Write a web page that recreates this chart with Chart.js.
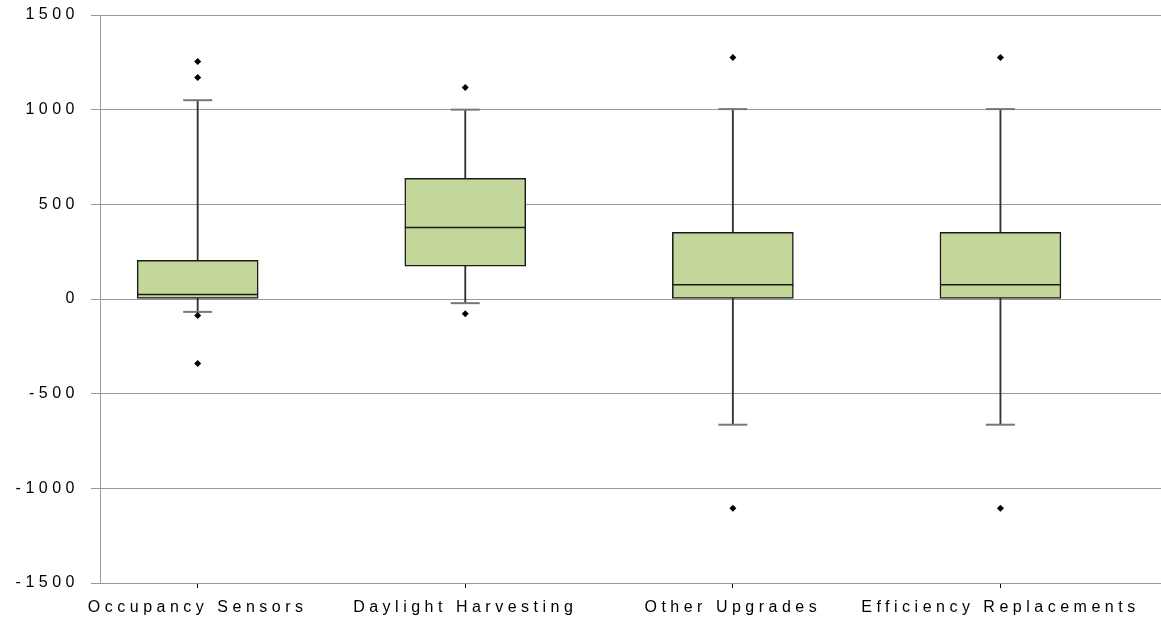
<!DOCTYPE html>
<html>
<head>
<meta charset="utf-8">
<script src="https://cdn.jsdelivr.net/npm/chart.js@4.4.0/dist/chart.umd.min.js"></script>
<style>
  html, body { margin: 0; padding: 0; background: #ffffff; }
  #wrap { width: 1161px; height: 629px; position: relative; }
</style>
</head>
<body>
<div id="wrap"><canvas id="c"></canvas></div>
<script>
// ---- data ----
const categories = ["Occupancy Sensors", "Daylight Harvesting", "Other Upgrades", "Efficiency Replacements"];
const minVals    = [-68, -22, -664, -664];
const q1Vals     = [0, 174, 0, 0];
const medianVals = [24, 377, 75, 75];
const q3Vals     = [204, 637, 352, 352];
const maxVals    = [1050, 1000, 1003, 1003];
const outlierVals = [
  [1255, 1170, -87, -341],
  [1117, -78],
  [1276, -1105],
  [1276, -1105]
];
const yTicks = [-1500, -1000, -500, 0, 500, 1000, 1500];

// ---- derived datasets ----
const boxData = categories.map((_, i) => ({ x: i, y: [q1Vals[i], q3Vals[i]] }));
const whiskerData = categories.map((_, i) => ({ x: i, y: [minVals[i], maxVals[i]] }));
const medianData = categories.map((_, i) => ({ x: i, y: medianVals[i] }));
const capData = [];
categories.forEach((_, i) => { capData.push({ x: i, y: minVals[i] }); capData.push({ x: i, y: maxVals[i] }); });
const outlierData = [];
outlierVals.forEach((arr, i) => arr.forEach(v => outlierData.push({ x: i, y: v })));

const SPACING = '4.5px';
const spacingPlugin = {
  id: 'spacing',
  beforeUpdate(chart) { chart.ctx.letterSpacing = SPACING; },
  beforeLayout(chart) { chart.ctx.letterSpacing = SPACING; },
  beforeDraw(chart) { chart.ctx.letterSpacing = SPACING; },
  afterDraw(chart) { chart.ctx.letterSpacing = '0px'; }
};

const FONT = { family: "'Liberation Sans', Arial, sans-serif", size: 16 };

new Chart(document.getElementById('c'), {
  type: 'bar',
  data: {
    datasets: [
      { type: 'scatter', data: outlierData, pointStyle: 'rectRot', radius: 3.5, backgroundColor: '#000', borderColor: '#000', borderWidth: 0, order: 0 },
      { type: 'scatter', data: medianData, pointStyle: 'line', radius: 60.5, borderColor: '#1a1a1a', borderWidth: 1.5, order: 0 },
      { type: 'bar', data: boxData, backgroundColor: '#c4d79b', borderColor: '#1a1a1a', borderWidth: 1.5, borderSkipped: false, barThickness: 121, grouped: false, order: 1 },
      { type: 'scatter', data: capData, pointStyle: 'line', radius: 14.5, borderColor: '#777', borderWidth: 2, order: 2 },
      { type: 'bar', data: whiskerData, backgroundColor: '#333', borderWidth: 0, barThickness: 1.2, grouped: false, order: 3 }
    ]
  },
  options: {
    responsive: true,
    maintainAspectRatio: false,
    animation: false,
    layout: { autoPadding: false, padding: { top: 15, right: 0, bottom: 0, left: 0 } },
    plugins: { legend: { display: false }, tooltip: { enabled: false } },
    scales: {
      x: {
        type: 'linear',
        offset: false,
        min: -0.365,
        max: 3.6,
        afterBuildTicks(scale) { scale.ticks = categories.map((_, i) => ({ value: i })); },
        afterFit(scale) { scale.height = 46; scale.paddingLeft = 0; scale.paddingRight = 0; },
        ticks: {
          autoSkip: false,
          maxRotation: 0,
          color: '#000',
          font: FONT,
          padding: 10,
          callback: (v) => categories[v]
        },
        grid: { offset: false, drawOnChartArea: false, drawTicks: true, tickLength: 5, color: '#000', tickWidth: 1 },
        border: { display: true, color: '#999', width: 1 }
      },
      y: {
        min: -1500,
        max: 1500,
        afterBuildTicks(scale) { scale.ticks = yTicks.map(v => ({ value: v })); },
        afterFit(scale) { scale.width = 100; scale.paddingTop = 0; scale.paddingBottom = 0; },
        ticks: { color: '#000', font: FONT, padding: 12, callback: (v) => String(v) },
        grid: { color: '#999', lineWidth: 1, tickLength: 9 },
        border: { display: true, color: '#999', width: 1 }
      }
    }
  },
  plugins: [spacingPlugin]
});
</script>
</body>
</html>
